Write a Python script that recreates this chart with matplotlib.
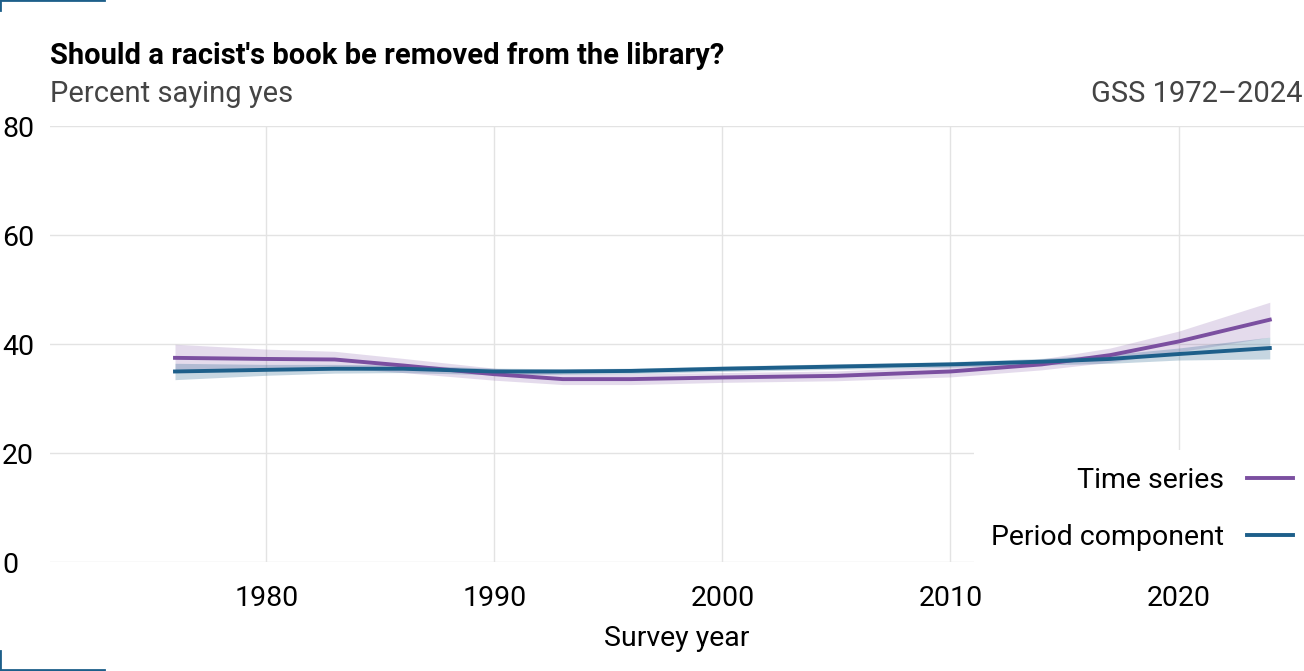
import matplotlib.pyplot as plt
from matplotlib.lines import Line2D
import numpy as np

plt.rcParams['font.family'] = ['Roboto', 'DejaVu Sans']

years = [1976, 1980, 1983, 1986, 1990, 1993, 1996, 2000, 2005, 2010, 2014, 2017, 2020, 2024]
time_series = [37.5, 37.3, 37.2, 36.1, 34.5, 33.6, 33.6, 33.9, 34.2, 35.0, 36.3, 38.0, 40.5, 44.5]
ts_halfwidth = [2.5, 1.8, 1.5, 1.3, 1.1, 1.0, 1.0, 0.9, 0.9, 1.0, 1.0, 1.3, 1.9, 3.2]
period = [35.0, 35.3, 35.5, 35.5, 35.0, 35.0, 35.1, 35.5, 35.9, 36.3, 36.8, 37.3, 38.2, 39.3]
pc_halfwidth = [1.5, 1.0, 0.8, 0.7, 0.6, 0.5, 0.5, 0.5, 0.5, 0.5, 0.6, 0.8, 1.1, 2.0]

purple = '#7b4fa0'
blue = '#1d5f8a'

fig = plt.figure(figsize=(13.04, 6.71), dpi=100)
ax = fig.add_axes([0.038, 0.162, 0.962, 0.650])

y = np.array(years)
ts = np.array(time_series); tw = np.array(ts_halfwidth)
pc = np.array(period); pw = np.array(pc_halfwidth)
ax.fill_between(y, ts - tw, ts + tw, color=purple, alpha=0.2, lw=0)
ax.fill_between(y, pc - pw, pc + pw, color=blue, alpha=0.25, lw=0)
ax.plot(y, ts, color=purple, lw=2.8, label='Time series')
ax.plot(y, pc, color=blue, lw=2.8, label='Period component')

ax.set_xlim(1970.5, 2025.5)
ax.set_ylim(0, 80)
ax.set_xticks([1980, 1990, 2000, 2010, 2020])
ax.set_yticks([0, 20, 40, 60, 80])
ax.grid(True, color='#e3e3e3', lw=1)
ax.set_axisbelow(True)
for s in ax.spines.values():
    s.set_visible(False)
ax.tick_params(length=0, labelsize=20.5, colors='black')
ax.tick_params(axis='x', pad=16)
ax.tick_params(axis='y', pad=0)
for lab in ax.get_yticklabels():
    lab.set_horizontalalignment('left')
    lab.set_x(-0.038)
ax.set_xlabel('Survey year', fontsize=20.5, labelpad=10)

leg = ax.legend(loc='lower right', markerfirst=False, frameon=True, fontsize=20.5,
                handlelength=1.6, labelspacing=1.05, borderaxespad=0.0,
                borderpad=0.4, facecolor='white', edgecolor='none', framealpha=1)
leg.get_frame().set_boxstyle('square', pad=0.2)
for t in leg.get_texts():
    t.set_horizontalalignment('right')
leg._legend_box.align = 'right'

fig.text(0.038, 0.905, "Should a racist's book be removed from the library?",
         fontsize=21, fontweight='bold', va='baseline')
fig.text(0.038, 0.848, 'Percent saying yes', fontsize=21, color='#444444', va='baseline')
fig.text(0.999, 0.848, 'GSS 1972\u20132024', fontsize=21, color='#444444', va='baseline', ha='right')

fig.add_artist(Line2D([0.0, 0.0, 0.08], [0.985, 1.0, 1.0], color=blue, lw=2, transform=fig.transFigure))
fig.add_artist(Line2D([0.0, 0.0, 0.08], [0.03, 0.002, 0.002], color=blue, lw=2, transform=fig.transFigure))

fig.savefig('out.png', dpi=100)
